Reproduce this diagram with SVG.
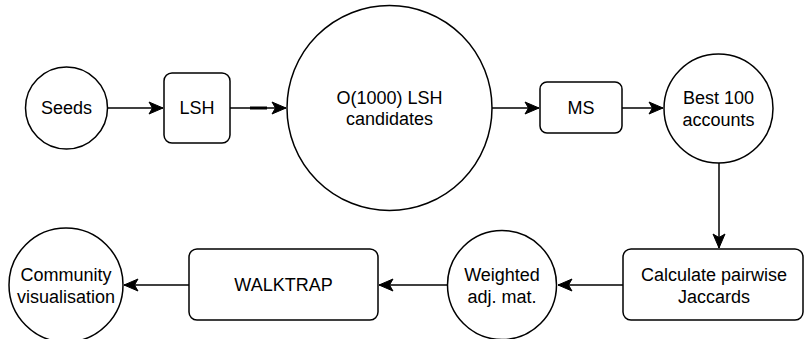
<svg xmlns="http://www.w3.org/2000/svg" width="804" height="339" viewBox="0 0 804 339">
  <defs>
    <style>
      .node { fill: #ffffff; stroke: #000000; stroke-width: 1.5; }
      .edge { fill: none; stroke: #000000; stroke-width: 1.5; }
      text { font-family: "Liberation Sans", Arial, Helvetica, sans-serif; font-size: 18px; fill: #000000; text-anchor: middle; dominant-baseline: central; }
    </style>
    <marker id="arrow" markerUnits="userSpaceOnUse" markerWidth="16" markerHeight="16" viewBox="0 0 16 16" refX="15" refY="8" orient="auto">
      <path d="M1,2 L15,8 L1,14 L4.5,8 Z" fill="#000000" stroke="#000000" stroke-width="1"/>
    </marker>
  </defs>
  <rect width="804" height="339" fill="#ffffff"/>

  <g id="connectors">
    <line class="edge" x1="108" y1="108" x2="163" y2="108" marker-end="url(#arrow)"/>
    <line class="edge" x1="230" y1="108" x2="286" y2="108" marker-end="url(#arrow)"/>
    <line x1="250" y1="108" x2="267" y2="108" stroke="#000000" stroke-width="3"/>
    <line class="edge" x1="492" y1="108" x2="539" y2="108" marker-end="url(#arrow)"/>
    <line class="edge" x1="622" y1="108" x2="663" y2="108" marker-end="url(#arrow)"/>
    <line class="edge" x1="719" y1="163" x2="719" y2="248" marker-end="url(#arrow)"/>
    <line class="edge" x1="623" y1="285" x2="558" y2="285" marker-end="url(#arrow)"/>
    <line class="edge" x1="447" y1="285" x2="379" y2="285" marker-end="url(#arrow)"/>
    <line class="edge" x1="189" y1="285" x2="124" y2="285" marker-end="url(#arrow)"/>
  </g>

  <g id="seeds">
    <circle class="node" cx="66.5" cy="108" r="41"/>
    <text x="66.5" y="108">Seeds</text>
  </g>

  <g id="lsh">
    <rect class="node" x="164" y="73" width="66" height="70" rx="8"/>
    <text x="197" y="108">LSH</text>
  </g>

  <g id="lsh-candidates">
    <circle class="node" cx="389.5" cy="108" r="102.5"/>
    <text x="389.5" y="98">O(1000) LSH</text>
    <text x="389.5" y="119">candidates</text>
  </g>

  <g id="ms">
    <rect class="node" x="540" y="82" width="82" height="51" rx="7"/>
    <text x="581" y="108">MS</text>
  </g>

  <g id="best-accounts">
    <circle class="node" cx="718.5" cy="108.5" r="54.5"/>
    <text x="718.5" y="98">Best 100</text>
    <text x="718.5" y="120">accounts</text>
  </g>

  <g id="pairwise-jaccards">
    <rect class="node" x="623" y="249" width="180" height="71" rx="8"/>
    <text x="714" y="275">Calculate pairwise</text>
    <text x="714" y="297">Jaccards</text>
  </g>

  <g id="weighted-adj">
    <circle class="node" cx="502" cy="285" r="54.5"/>
    <text x="502" y="275">Weighted</text>
    <text x="502" y="297">adj. mat.</text>
  </g>

  <g id="walktrap">
    <rect class="node" x="189" y="249" width="189" height="71" rx="8"/>
    <text x="283.5" y="285">WALKTRAP</text>
  </g>

  <g id="community">
    <circle class="node" cx="66" cy="285" r="57"/>
    <text x="66" y="275">Community</text>
    <text x="66" y="297">visualisation</text>
  </g>
</svg>
